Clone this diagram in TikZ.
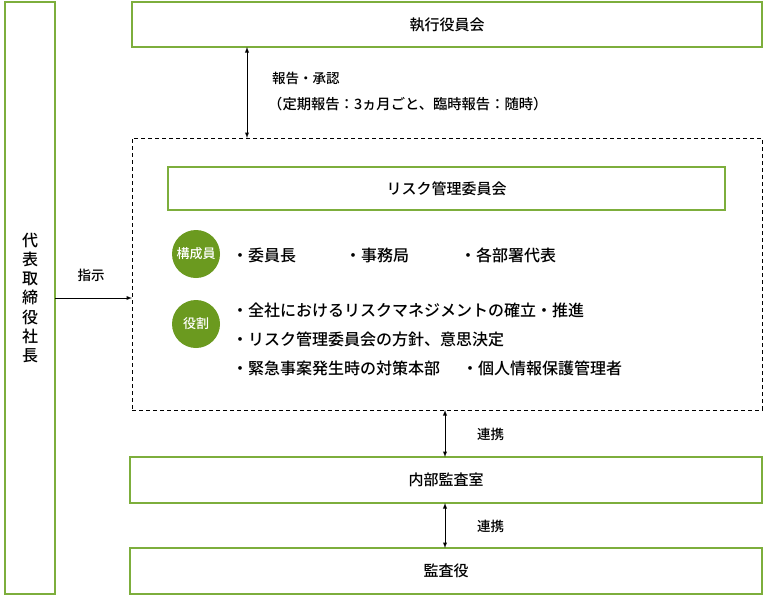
\documentclass[tikz,border=0pt]{standalone}
\usepackage{fontspec}
\setmainfont{Noto Sans CJK JP}[BoldFont={* Medium}]
\usetikzlibrary{arrows,positioning,calc}
\definecolor{boxgreen}{HTML}{7DAE3C}
\definecolor{dotgreen}{HTML}{6B9A1F}
\tikzset{
  every node/.style={font=\bfseries},
  greenbox/.style={draw=boxgreen,line width=1.5pt,inner sep=0pt,outer sep=0pt,
    font=\fontsize{15}{19}\selectfont\bfseries},
  dashbox/.style={draw,line width=0.9pt,dash pattern=on 4pt off 3pt,inner sep=0pt,outer sep=0pt},
  badge/.style={circle,fill=dotgreen,text=white,minimum size=48pt,inner sep=0pt,
    font=\fontsize{13}{15}\selectfont\bfseries},
  item/.style={anchor=west,inner sep=0pt,font=\fontsize{16}{19}\selectfont\bfseries},
  note/.style={anchor=west,inner sep=0pt,font=\fontsize{13.5}{16}\selectfont\bfseries},
  link/.style={latex-latex,line width=0.9pt}
}
\begin{document}
\begin{tikzpicture}[x=1pt,y=-1pt]
\useasboundingbox (0,0) rectangle (768,600);
% boxes
\node[greenbox,minimum width=50pt,minimum height=592pt,align=center,
  font=\fontsize{16}{19.3}\selectfont\bfseries] (ceo) at (30,298) {代\\表\\取\\締\\役\\社\\長};
\node[greenbox,minimum width=630pt,minimum height=45pt] (exec) at (447,24.5) {執行役員会};
\node[dashbox,minimum width=630pt,minimum height=272pt] (rmc) at (447,274) {};
\node[greenbox,minimum width=557pt,minimum height=43pt] (rmctitle) at (446.5,188.5) {リスク管理委員会};
\node[greenbox,minimum width=632pt,minimum height=46pt] (office) at (446,480) {内部監査室};
\node[greenbox,minimum width=632pt,minimum height=46pt] (auditor) at (446,571) {監査役};
% committee contents
\node[badge] (member) at (196,254) {構成員};
\node[badge] (role) at (196,324) {役割};
\node[item] (m1) at (232,255) {・委員長};
\node[item] (m2) at (345,255) {・事務局};
\node[item] (m3) at (460,255) {・各部署代表};
\node[item] (r1) at (232,310) {・全社におけるリスクマネジメントの確立・推進};
\node[item] (r2) at (232,339) {・リスク管理委員会の方針、意思決定};
\node[item] (r3) at (232,368) {・緊急事案発生時の対策本部};
\node[item] (r4) at (462,368) {・個人情報保護管理者};
% connectors
\coordinate (up) at (247,0);
\coordinate (down) at (445,0);
\draw[link] (exec.south -| up) -- (rmc.north -| up);
\node[note] (report) at (272,78) {報告・承認};
\node[note,font=\fontsize{14.3}{17}\selectfont\bfseries] (period) at (268,104) {（定期報告：3ヵ月ごと、臨時報告：随時）};
\draw[-latex,line width=0.9pt] (ceo.east) -- (ceo.east -| rmc.west);
\node[note,anchor=center] (order) at (91,275) {指示};
\draw[link] (rmc.south -| down) -- (office.north -| down);
\node[note] (coop1) at (477,434) {連携};
\draw[link] (office.south -| down) -- (auditor.north -| down);
\node[note] (coop2) at (477,526) {連携};
\end{tikzpicture}
\end{document}
